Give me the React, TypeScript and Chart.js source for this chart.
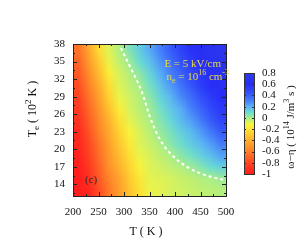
import React, { useEffect, useRef } from "react";
import { Chart, registerables } from "chart.js";

Chart.register(...registerables);

// ---- data ----
const T_CENTERS = [210, 230, 250, 270, 290, 310, 330, 350, 370, 390, 410, 430, 450, 470, 490];
const TE_CENTERS = [37, 35, 33, 31, 29, 27, 25, 23, 21, 19, 17, 15, 13];

const ROW_TE37 = [-0.64, -0.44, -0.23, -0.08, -0.02, 0.06, 0.14, 0.22, 0.31, 0.41, 0.5, 0.58, 0.64, 0.69, 0.72];
const ROW_TE35 = [-0.69, -0.49, -0.3, -0.1, -0.04, 0.01, 0.1, 0.17, 0.26, 0.35, 0.44, 0.53, 0.6, 0.66, 0.71];
const ROW_TE33 = [-0.73, -0.54, -0.35, -0.15, -0.07, -0.02, 0.04, 0.12, 0.21, 0.3, 0.39, 0.48, 0.56, 0.63, 0.68];
const ROW_TE31 = [-0.77, -0.59, -0.41, -0.22, -0.08, -0.04, 0.0, 0.08, 0.16, 0.25, 0.34, 0.43, 0.53, 0.6, 0.65];
const ROW_TE29 = [-0.82, -0.64, -0.46, -0.27, -0.1, -0.06, -0.02, 0.04, 0.12, 0.19, 0.28, 0.36, 0.45, 0.54, 0.6];
const ROW_TE27 = [-0.86, -0.68, -0.5, -0.33, -0.15, -0.07, -0.03, 0.01, 0.08, 0.15, 0.21, 0.3, 0.39, 0.48, 0.55];
const ROW_TE25 = [-0.9, -0.72, -0.55, -0.38, -0.22, -0.09, -0.05, -0.01, 0.05, 0.11, 0.18, 0.24, 0.32, 0.42, 0.5];
const ROW_TE23 = [-0.93, -0.76, -0.58, -0.42, -0.27, -0.13, -0.07, -0.03, 0.02, 0.07, 0.13, 0.18, 0.25, 0.33, 0.42];
const ROW_TE21 = [-0.96, -0.8, -0.63, -0.46, -0.31, -0.17, -0.08, -0.05, -0.01, 0.04, 0.09, 0.14, 0.19, 0.25, 0.32];
const ROW_TE19 = [-0.97, -0.83, -0.66, -0.49, -0.35, -0.22, -0.1, -0.07, -0.04, -0.01, 0.04, 0.08, 0.13, 0.18, 0.24];
const ROW_TE17 = [-1.0, -0.87, -0.7, -0.52, -0.39, -0.26, -0.13, -0.08, -0.06, -0.04, -0.02, 0.01, 0.05, 0.1, 0.13];
const ROW_TE15 = [-1.0, -0.91, -0.73, -0.57, -0.45, -0.3, -0.18, -0.09, -0.08, -0.07, -0.05, -0.04, -0.02, -0.01, 0.01];
const ROW_TE13 = [-1.0, -0.96, -0.78, -0.61, -0.47, -0.33, -0.21, -0.1, -0.09, -0.07, -0.06, -0.05, -0.04, -0.03, -0.02];

const GRID = [ROW_TE37, ROW_TE35, ROW_TE33, ROW_TE31, ROW_TE29, ROW_TE27, ROW_TE25, ROW_TE23, ROW_TE21, ROW_TE19, ROW_TE17, ROW_TE15, ROW_TE13];

// zero contour (white dashed)
const CONTOUR_T = [294, 312, 335, 351, 371, 404, 449, 498];
const CONTOUR_TE = [37.3, 34.1, 29.8, 25.5, 21.6, 18.2, 15.9, 14.7];

const X_TICKS = [200, 250, 300, 350, 400, 450, 500];
const X_MINOR = [225, 275, 325, 375, 425, 475];
const Y_TICKS = [14, 17, 20, 23, 26, 29, 32, 35, 38];
const Y_MINOR = [12.5, 15.5, 18.5, 21.5, 24.5, 27.5, 30.5, 33.5, 36.5];
const CB_TICKS = [-1, -0.8, -0.6, -0.4, -0.2, 0, 0.2, 0.4, 0.6, 0.8];

// palette
const PAL_V = [-1, -0.8, -0.6, -0.4, -0.25, -0.12, 0, 0.1, 0.2, 0.3, 0.45, 0.6, 0.8];
const PAL_C = [
  [255, 30, 30], [255, 70, 35], [255, 125, 40], [255, 175, 45], [255, 215, 50], [250, 245, 60],
  [165, 238, 140], [105, 220, 210], [90, 180, 245], [70, 130, 250], [50, 80, 250], [40, 45, 248], [45, 60, 230],
];

const SERIF = "'Liberation Serif', 'Times New Roman', serif";

function colorFor(v: number): number[] {
  if (v <= PAL_V[0]) return PAL_C[0];
  for (let i = 1; i < PAL_V.length; i++) {
    if (v <= PAL_V[i]) {
      const f = (v - PAL_V[i - 1]) / (PAL_V[i] - PAL_V[i - 1]);
      return PAL_C[i].map((c, k) => Math.round(PAL_C[i - 1][k] + (c - PAL_C[i - 1][k]) * f));
    }
  }
  return PAL_C[PAL_C.length - 1];
}

type Part = { t: string; s: number; dy: number };

function drawRich(ctx: CanvasRenderingContext2D, parts: Part[], x: number, y: number, align: string) {
  let w = 0;
  for (const p of parts) {
    ctx.font = `${p.s}px ${SERIF}`;
    w += ctx.measureText(p.t).width;
  }
  let cx = align === "right" ? x - w : align === "center" ? x - w / 2 : x;
  ctx.textAlign = "left";
  ctx.textBaseline = "alphabetic";
  for (const p of parts) {
    ctx.font = `${p.s}px ${SERIF}`;
    ctx.fillText(p.t, cx, y + p.dy);
    cx += ctx.measureText(p.t).width;
  }
}

const heatPlugin = {
  id: "heat",
  beforeDatasetsDraw(chart: any) {
    const { ctx, chartArea: a, scales } = chart;
    const x = scales.x, y = scales.y;
    const nC = T_CENTERS.length, nR = TE_CENTERS.length;
    const off = document.createElement("canvas");
    off.width = nC;
    off.height = nR;
    const octx = off.getContext("2d")!;
    const img = octx.createImageData(nC, nR);
    GRID.forEach((row, r) =>
      row.forEach((v, c) => {
        const col = colorFor(v);
        const i = (r * nC + c) * 4;
        img.data[i] = col[0];
        img.data[i + 1] = col[1];
        img.data[i + 2] = col[2];
        img.data[i + 3] = 255;
      })
    );
    octx.putImageData(img, 0, 0);
    const dT = T_CENTERS[1] - T_CENTERS[0];
    const dTe = TE_CENTERS[0] - TE_CENTERS[1];
    const x0 = x.getPixelForValue(T_CENTERS[0] - dT / 2);
    const x1 = x.getPixelForValue(T_CENTERS[nC - 1] + dT / 2);
    const y0 = y.getPixelForValue(TE_CENTERS[0] + dTe / 2);
    const y1 = y.getPixelForValue(TE_CENTERS[nR - 1] - dTe / 2);
    ctx.save();
    ctx.beginPath();
    ctx.rect(a.left, a.top, a.right - a.left, a.bottom - a.top);
    ctx.clip();
    ctx.imageSmoothingEnabled = true;
    ctx.drawImage(off, x0, y0, x1 - x0, y1 - y0);
    ctx.restore();
  },
  afterDatasetsDraw(chart: any) {
    const { ctx, chartArea: a, scales } = chart;
    const x = scales.x, y = scales.y;
    ctx.save();
    ctx.strokeStyle = "#222";
    ctx.lineWidth = 1;
    const tick = (vals: number[], len: number, horiz: boolean) => {
      for (const v of vals) {
        ctx.beginPath();
        if (horiz) {
          const p = Math.round(x.getPixelForValue(v)) + 0.5;
          ctx.moveTo(p, a.bottom);
          ctx.lineTo(p, a.bottom - len);
          ctx.moveTo(p, a.top);
          ctx.lineTo(p, a.top + len);
        } else {
          const p = Math.round(y.getPixelForValue(v)) + 0.5;
          ctx.moveTo(a.left, p);
          ctx.lineTo(a.left + len, p);
          ctx.moveTo(a.right, p);
          ctx.lineTo(a.right - len, p);
        }
        ctx.stroke();
      }
    };
    tick(X_TICKS, 4, true);
    tick(X_MINOR, 2, true);
    tick(Y_TICKS, 4, false);
    tick(Y_MINOR, 2, false);
    ctx.strokeRect(Math.round(a.left) + 0.5, Math.round(a.top) + 0.5, Math.round(a.right - a.left), Math.round(a.bottom - a.top));

    // annotations
    ctx.fillStyle = "#e8dc48";
    drawRich(ctx, [{ t: "E = 5 kV/cm", s: 11, dy: 0 }], 221, 67, "right");
    drawRich(
      ctx,
      [
        { t: "n", s: 11, dy: 0 },
        { t: "e", s: 8, dy: 3 },
        { t: " = 10", s: 11, dy: 0 },
        { t: "16", s: 8, dy: -5 },
        { t: " cm", s: 11, dy: 0 },
        { t: "-3", s: 8, dy: -5 },
      ],
      229,
      80,
      "right"
    );
    ctx.fillStyle = "#2a2a2a";
    drawRich(ctx, [{ t: "(c)", s: 11, dy: 0 }], 85, 183, "left");

    // axis titles
    ctx.fillStyle = "#111";
    drawRich(ctx, [{ t: "T ( K )", s: 12, dy: 0 }], 146, 235, "center");
    ctx.translate(36, 109);
    ctx.rotate(-Math.PI / 2);
    drawRich(
      ctx,
      [
        { t: "T", s: 12, dy: 0 },
        { t: "e", s: 9, dy: 3 },
        { t: " ( 10", s: 12, dy: 0 },
        { t: "2", s: 9, dy: -5 },
        { t: " K )", s: 12, dy: 0 },
      ],
      0,
      0,
      "center"
    );
    ctx.restore();
  },
};

const cbPlugin = {
  id: "cbar",
  beforeDatasetsDraw(chart: any) {
    const { ctx, chartArea: a, scales } = chart;
    const y = scales.y;
    const yb = y.getPixelForValue(CB_TICKS[0]);
    const yt = y.getPixelForValue(CB_TICKS[CB_TICKS.length - 1]);
    const g = ctx.createLinearGradient(0, yb, 0, yt);
    PAL_V.forEach((v: number, i: number) => {
      const off = (y.getPixelForValue(v) - yb) / (yt - yb);
      const c = PAL_C[i];
      g.addColorStop(Math.min(1, Math.max(0, off)), `rgb(${c[0]},${c[1]},${c[2]})`);
    });
    ctx.save();
    ctx.fillStyle = g;
    ctx.fillRect(a.left, a.top, a.right - a.left, a.bottom - a.top);
    ctx.strokeStyle = "#333";
    ctx.lineWidth = 1;
    for (const v of CB_TICKS) {
      const p = Math.round(y.getPixelForValue(v)) + 0.5;
      ctx.beginPath();
      ctx.moveTo(a.left, p);
      ctx.lineTo(a.left + 2, p);
      ctx.moveTo(a.right, p);
      ctx.lineTo(a.right - 2, p);
      ctx.stroke();
    }
    ctx.strokeRect(Math.round(a.left) + 0.5, Math.round(a.top) + 0.5, Math.round(a.right - a.left), Math.round(a.bottom - a.top));
    ctx.fillStyle = "#111";
    ctx.translate(294, 127);
    ctx.rotate(-Math.PI / 2);
    drawRich(
      ctx,
      [
        { t: "ω−η ( 10", s: 11, dy: 0 },
        { t: "14", s: 8, dy: -5 },
        { t: " J/m", s: 11, dy: 0 },
        { t: "3", s: 8, dy: -5 },
        { t: " s )", s: 11, dy: 0 },
      ],
      0,
      0,
      "center"
    );
    ctx.restore();
  },
};

export default function App() {
  const mainRef = useRef<HTMLCanvasElement>(null);
  const cbRef = useRef<HTMLCanvasElement>(null);

  useEffect(() => {
    const tickFont = { family: SERIF, size: 11 };
    const main = new Chart(mainRef.current!, {
      type: "scatter",
      data: {
        datasets: [
          {
            data: CONTOUR_T.map((t, i) => ({ x: t, y: CONTOUR_TE[i] })),
            showLine: true,
            borderColor: "#ffffff",
            borderWidth: 2,
            borderDash: [3, 3],
            pointRadius: 0,
            cubicInterpolationMode: "monotone",
            fill: false,
          } as any,
        ],
      },
      options: {
        responsive: false,
        animation: false,
        devicePixelRatio: 1,
        layout: { padding: { left: 0, top: 44, right: 74, bottom: 0 } },
        plugins: { legend: { display: false }, tooltip: { enabled: false } },
        scales: {
          x: {
            type: "linear",
            min: 200,
            max: 500,
            afterBuildTicks: (s: any) => {
              s.ticks = X_TICKS.map((v) => ({ value: v }));
            },
            ticks: { padding: 10, font: tickFont, color: "#111", maxRotation: 0, autoSkip: false },
            grid: { display: false, drawTicks: false },
            border: { display: false },
            afterFit: (s: any) => {
              s.height = 56;
            },
          },
          y: {
            type: "linear",
            min: 12,
            max: 38,
            afterBuildTicks: (s: any) => {
              s.ticks = Y_TICKS.map((v) => ({ value: v }));
            },
            ticks: { padding: 8, font: tickFont, color: "#111", autoSkip: false },
            grid: { display: false, drawTicks: false },
            border: { display: false },
            afterFit: (s: any) => {
              s.width = 73;
            },
          },
        },
      } as any,
      plugins: [heatPlugin],
    });

    const cb = new Chart(cbRef.current!, {
      type: "scatter",
      data: { datasets: [{ data: [] }] },
      options: {
        responsive: false,
        animation: false,
        devicePixelRatio: 1,
        layout: { padding: { left: 244, top: 73, right: 16, bottom: 78 } },
        plugins: { legend: { display: false }, tooltip: { enabled: false } },
        scales: {
          x: { display: false, min: 0, max: 1 },
          y: {
            type: "linear",
            position: "right",
            min: -1,
            max: 0.8,
            afterBuildTicks: (s: any) => {
              s.ticks = CB_TICKS.map((v) => ({ value: v }));
            },
            ticks: {
              padding: 8,
              font: tickFont,
              color: "#111",
              autoSkip: false,
              callback: (v: any) => String(Math.round(Number(v) * 10) / 10),
            },
            grid: { display: false, drawTicks: false },
            border: { display: false },
            afterFit: (s: any) => {
              s.width = 30;
            },
          },
        },
      } as any,
      plugins: [cbPlugin],
    });

    return () => {
      main.destroy();
      cb.destroy();
    };
  }, []);

  return (
    <div style={{ position: "absolute", left: 0, top: 0, width: 300, height: 252, background: "#fff" }}>
      <canvas ref={mainRef} width={300} height={252} style={{ position: "absolute", left: 0, top: 0 }} />
      <canvas ref={cbRef} width={300} height={252} style={{ position: "absolute", left: 0, top: 0 }} />
    </div>
  );
}
